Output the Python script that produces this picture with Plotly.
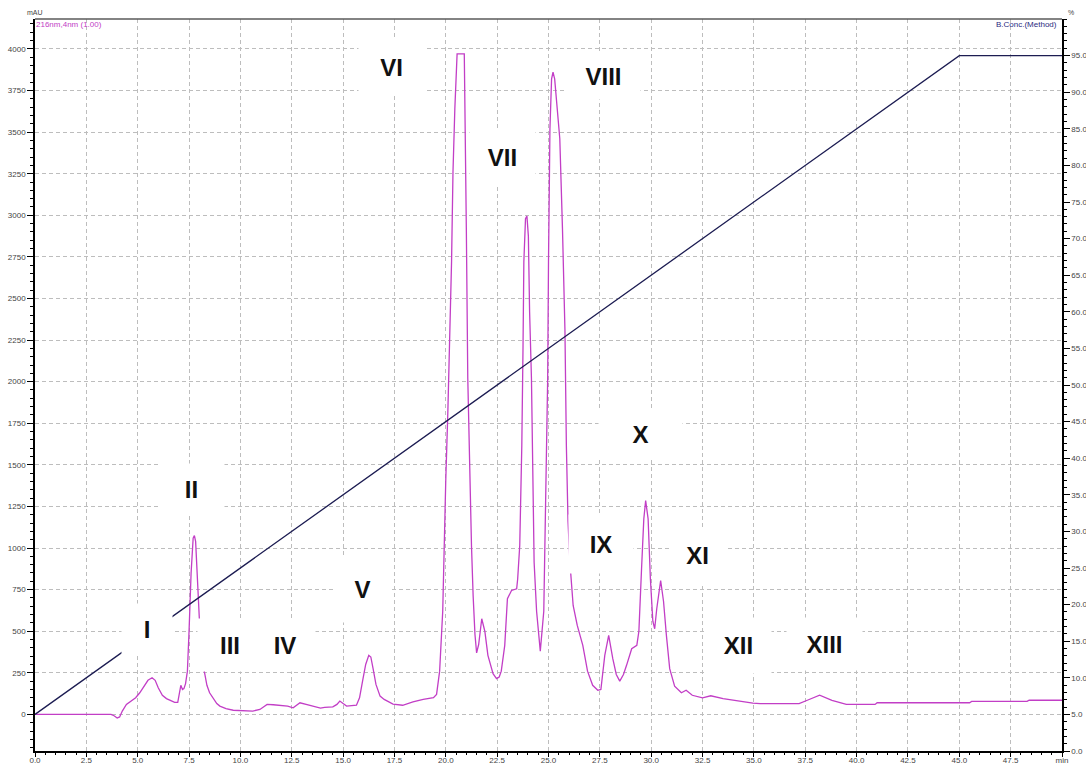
import plotly.graph_objects as go

# Chromatogram, 216 nm detector channel (retention time in min, signal in mAU)
time_min = [
    0.0, 3.7, 3.85, 4.0, 4.12, 4.25, 4.45, 4.7, 4.9, 5.1, 5.3, 5.5, 5.7, 5.85, 6.0, 6.2, 6.4,
    6.6, 6.8, 6.95, 7.03, 7.1, 7.18, 7.25, 7.33, 7.42, 7.5, 7.6, 7.7, 7.76, 7.82, 7.9, 7.98,
    8.05, 8.15, 8.25, 8.37, 8.5, 8.67, 8.85, 9.0, 9.3, 9.65, 10.0, 10.6, 10.95, 11.15, 11.3,
    11.6, 12.0, 12.3, 12.57, 12.75, 12.9, 13.2, 13.5, 13.9, 14.1, 14.5, 14.7, 14.84, 15.0,
    15.17, 15.65, 15.8, 15.97, 16.1, 16.25, 16.35, 16.46, 16.6, 16.8, 17.0, 17.43, 17.9,
    18.4, 18.9, 19.4, 19.55, 19.7, 19.85, 20.0, 20.1, 20.28, 20.35, 20.44, 20.55, 20.9,
    20.95, 21.0, 21.07, 21.17, 21.25, 21.33, 21.42, 21.5, 21.6, 21.75, 21.9, 22.05, 22.3,
    22.47, 22.6, 22.7, 22.87, 23.0, 23.2, 23.45, 23.5, 23.6, 23.7, 23.76, 23.8, 23.88,
    23.95, 24.02, 24.08, 24.17, 24.25, 24.3, 24.42, 24.6, 24.77, 24.86, 24.96, 25.0, 25.07,
    25.15, 25.22, 25.3, 25.4, 25.55, 25.68, 25.75, 25.8, 25.87, 25.95, 26.05, 26.2, 26.4,
    26.67, 26.9, 27.15, 27.4, 27.55, 27.74, 27.93, 28.13, 28.3, 28.47, 28.65, 28.8, 29.05,
    29.3, 29.4, 29.53, 29.64, 29.73, 29.85, 29.96, 30.08, 30.17, 30.27, 30.46, 30.6, 30.74,
    30.9, 31.14, 31.47, 31.7, 32.0, 32.5, 32.9, 33.5, 34.3, 34.95, 35.3, 37.2, 37.6, 38.2,
    38.8, 39.3, 39.5, 40.9, 41.0, 45.5, 45.6, 48.3, 48.4, 50.0,
]
absorbance_mau = [
    0, 0, -8, -22, -15, 20, 60, 85, 100, 130, 165, 205, 220, 205, 160, 115, 95,
    82, 72, 72, 130, 175, 150, 155, 185, 260, 500, 850, 1060, 1075, 1040, 850, 600,
    450, 320, 250, 175, 130, 95, 65, 50, 35, 25, 22, 20, 30, 45, 60,
    58, 55, 50, 40, 55, 70, 60, 50, 38, 42, 45, 60, 80, 65,
    50, 55, 100, 215, 300, 355, 345, 275, 180, 110, 90, 62, 55,
    75, 90, 100, 120, 260, 620, 1415, 1820, 2720, 3260, 3640, 3970, 3970,
    3580, 2920, 2020, 1415, 1015, 715, 480, 370, 420, 575, 500, 355, 245,
    215, 225, 260, 415, 695, 745, 755, 815, 1015, 1615, 2215, 2720, 2980,
    2995, 2875, 2420, 2020, 1415, 915, 620, 380, 620, 1220, 2020, 2720, 3520,
    3820, 3860, 3820, 3655, 3460, 2920, 2515, 2315, 1615, 1160, 900, 655, 535,
    415, 260, 175, 145, 150, 355, 475, 335, 240, 200, 240, 295, 395,
    415, 500, 875, 1175, 1285, 1175, 815, 560, 515, 635, 805, 680, 475,
    275, 170, 130, 145, 115, 100, 112, 95, 78, 68, 65, 65, 85, 115,
    85, 65, 60, 60, 70, 70, 78, 78, 85, 85,
]

# Solvent B gradient program (%)
gradient_time = [0.0, 45.0, 50.0]
gradient_b_pct = [5.0, 95.0, 95.0]

# Fraction labels
fraction_labels = ["I", "II", "III", "IV", "V", "VI", "VII", "VIII", "IX", "X", "XI", "XII", "XIII"]
label_time = [5.45, 7.64, 9.49, 12.17, 15.92, 17.38, 22.74, 27.7, 27.55, 29.5, 32.23, 34.23, 38.46]
label_mau = [516, 1357, 420, 420, 756, 3890, 3350, 3836, 1026, 1687, 954, 414, 426]
label_box_w = [50, 65, 64, 60, 55, 65, 65, 73, 64, 83, 55, 65, 75]
label_box_h = [50, 50, 52, 52, 66, 55, 55, 45, 58, 50, 55, 55, 52]

TICK_FONT = dict(family="Liberation Sans, Arial, sans-serif", size=8, color="#444444")
GRID = "#bdbdbd"

fig = go.Figure()
fig.add_trace(go.Scatter(
    x=time_min, y=absorbance_mau, mode="lines",
    line=dict(color="#c23ec6", width=1.3), yaxis="y", hoverinfo="skip",
))
fig.add_trace(go.Scatter(
    x=gradient_time, y=gradient_b_pct, mode="lines",
    line=dict(color="#1c1c52", width=1.3), yaxis="y2", hoverinfo="skip",
))

annotations = []
for txt, t, v, w, h in zip(fraction_labels, label_time, label_mau, label_box_w, label_box_h):
    annotations.append(dict(
        x=t, y=v, xref="x", yref="y", text=f"<b>{txt}</b>", showarrow=False,
        font=dict(family="Liberation Sans, Arial, sans-serif", size=24, color="#111111"),
        bgcolor="white", width=w, height=h, borderpad=0,
        xanchor="center", yanchor="middle", align="center", valign="middle",
    ))

annotations += [
    dict(x=0, y=1, xref="paper", yref="paper", text="mAU", showarrow=False,
         xanchor="center", yanchor="bottom", yshift=1, font=dict(TICK_FONT, size=7)),
    dict(x=1.0, y=1, xref="paper", yref="paper", text="%", showarrow=False,
         xanchor="left", yanchor="bottom", xshift=4, yshift=1, font=dict(TICK_FONT, size=7)),
    dict(x=0, y=1, xref="paper", yref="paper", text="216nm,4nm (1.00)", showarrow=False,
         xanchor="left", yanchor="top", xshift=-1, yshift=1,
         font=dict(family="Liberation Sans, Arial, sans-serif", size=8, color="#c23ec6")),
    dict(x=1, y=1, xref="paper", yref="paper", text="B.Conc.(Method)", showarrow=False,
         xanchor="right", yanchor="top", xshift=-3, yshift=1,
         font=dict(family="Liberation Sans, Arial, sans-serif", size=8, color="#2a2a80")),
]

fig.update_layout(
    template="none",
    width=1086, height=767,
    margin=dict(l=35, r=24, t=19, b=16),
    paper_bgcolor="white", plot_bgcolor="white",
    showlegend=False,
    xaxis=dict(
        range=[0, 50], tickmode="linear", tick0=0, dtick=2.5, tickformat=".1f",
        labelalias={"50.0": "min"},
        showgrid=True, gridcolor=GRID, griddash="4px,3px", gridwidth=1,
        showline=True, linecolor="black", linewidth=1.5,
        ticks="outside", ticklen=4, tickcolor="black", tickwidth=1,
        ticklabelstandoff=-3,
        minor=dict(tickmode="linear", tick0=0, dtick=0.5, ticks="outside", ticklen=2,
                   tickcolor="black", showgrid=False),
        zeroline=False, tickfont=TICK_FONT, automargin=False, fixedrange=True,
    ),
    yaxis=dict(
        range=[-220, 4180], tickmode="linear", tick0=0, dtick=250, tickformat="d",
        showgrid=True, gridcolor=GRID, griddash="4px,3px", gridwidth=1,
        showline=True, linecolor="black", linewidth=1.5,
        ticks="outside", ticklen=6, tickcolor="black", tickwidth=1,
        minor=dict(tickmode="linear", tick0=0, dtick=50, ticks="outside", ticklen=3,
                   tickcolor="black", showgrid=False),
        zeroline=False, tickfont=TICK_FONT, automargin=False, fixedrange=True,
    ),
    yaxis2=dict(
        range=[0, 100], overlaying="y", side="right",
        tickmode="array", tickvals=[v * 5 for v in range(20)],
        ticktext=[f"{v * 5:.1f}" for v in range(20)],
        showgrid=False, showline=True, linecolor="black", linewidth=1.5,
        ticks="outside", ticklen=6, tickcolor="black", tickwidth=1,
        minor=dict(tickmode="linear", tick0=0, dtick=1, ticks="outside", ticklen=3,
                   tickcolor="black", showgrid=False),
        zeroline=False, tickfont=TICK_FONT, automargin=False, fixedrange=True,
    ),
    shapes=[dict(type="line", xref="paper", yref="paper", x0=0, x1=1, y0=1, y1=1,
                 line=dict(color="#5a5a5a", width=1.5))],
    annotations=annotations,
)

fig.write_html("out.html", config={"displayModeBar": False})
